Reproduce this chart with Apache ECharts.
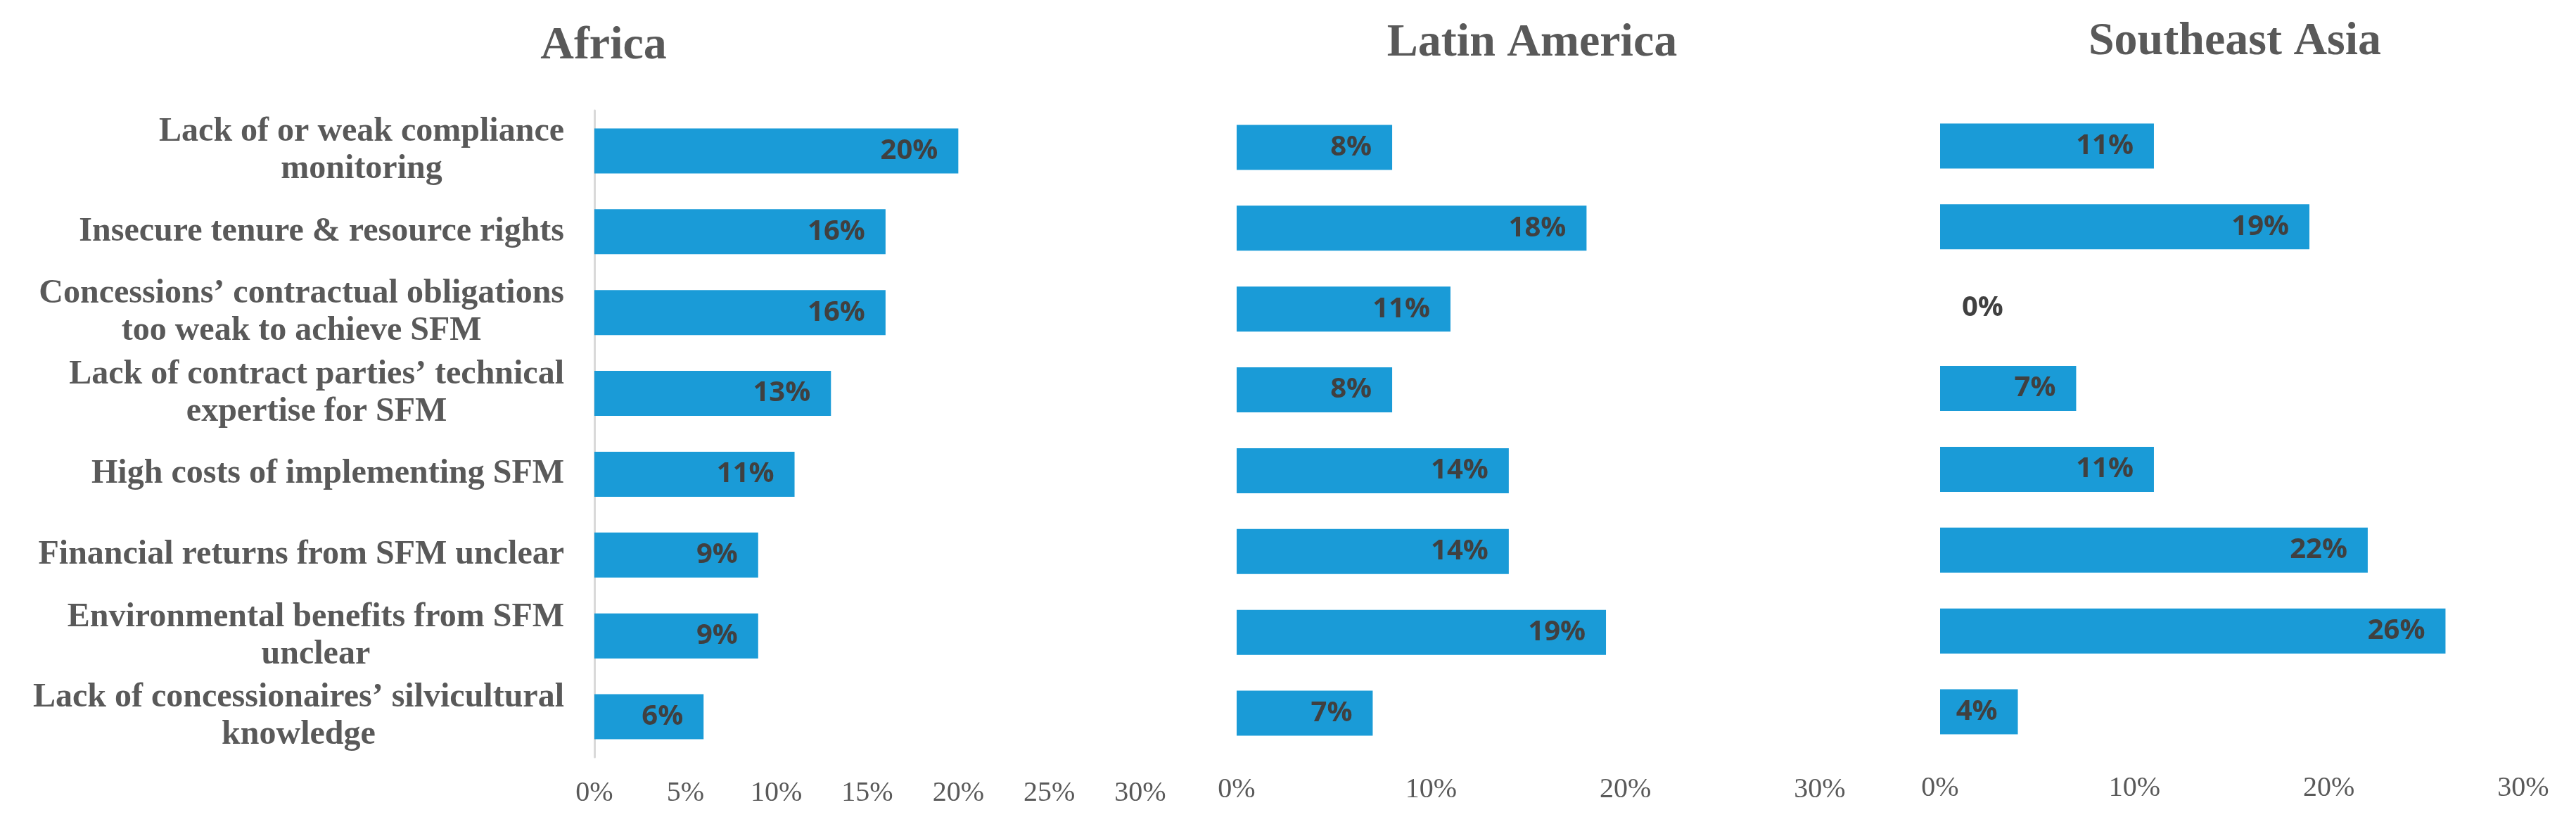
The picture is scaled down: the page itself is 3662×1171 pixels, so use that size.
<!DOCTYPE html>
<html>
<head>
<meta charset="utf-8">
<script src="https://cdn.jsdelivr.net/npm/echarts@6/dist/echarts.min.js"></script>
<style>
html,body{margin:0;padding:0;background:#fff;}
#chart{width:3662px;height:1171px;}
</style>
</head>
<body>
<div id="chart"></div>
<script>
const categories = [
  "Lack of or weak compliance\nmonitoring",
  "Insecure tenure & resource rights",
  "Concessions\u2019 contractual obligations\ntoo weak to achieve SFM",
  "Lack of contract parties\u2019 technical\nexpertise for SFM",
  "High costs of implementing SFM",
  "Financial returns from SFM unclear",
  "Environmental benefits from SFM\nunclear",
  "Lack of concessionaires\u2019 silvicultural\nknowledge"
];
const regions = ["Africa", "Latin America", "Southeast Asia"];
const africaValues = [20, 16, 16, 13, 11, 9, 9, 6];
const latinAmericaValues = [8, 18, 11, 8, 14, 14, 19, 7];
const southeastAsiaValues = [11, 19, 0, 7, 11, 22, 26, 4];
const africaTicks = {min: 0, max: 30, interval: 5};
const otherTicks = {min: 0, max: 30, interval: 10};

const serif = "'Liberation Serif','Times New Roman',serif";
const sans = "'Open Sans','Noto Sans',sans-serif";
const barColor = '#1a9bd7';
const textGray = '#595959';

const grids = [
  {left: 845, top: 157, width: 776, height: 919},
  {left: 1758, top: 152, width: 829, height: 919},
  {left: 2758, top: 150, width: 829, height: 919}
];
const seriesValues = [africaValues, latinAmericaValues, southeastAsiaValues];
const tickSets = [africaTicks, otherTicks, otherTicks];
const titlePos = [[858, 66], [2178, 62], [3177, 60]];

const chart = echarts.init(document.getElementById('chart'), null, {renderer: 'canvas'});

const option = {
  animation: false,
  backgroundColor: '#ffffff',
  graphic: regions.map((r, i) => ({
    type: 'text', x: titlePos[i][0], y: titlePos[i][1],
    style: {text: r, align: 'center', verticalAlign: 'middle',
      font: 'bold 66px ' + serif, fill: textGray}
  })),
  grid: grids.map(g => Object.assign({containLabel: false}, g)),
  xAxis: tickSets.map((t, i) => ({
    type: 'value', gridIndex: i, min: t.min, max: t.max, interval: t.interval,
    axisLine: {show: false}, axisTick: {show: false}, splitLine: {show: false},
    axisLabel: {formatter: '{value}%', fontFamily: serif, fontSize: 40, color: textGray, margin: 31}
  })),
  yAxis: regions.map((r, i) => ({
    type: 'category', gridIndex: i, data: categories, inverse: true,
    axisTick: {show: false},
    axisLine: {show: i === 0, lineStyle: {color: '#d9d9d9', width: 3}},
    axisLabel: i === 0 ? {
      show: true, margin: 43, align: 'right',
      formatter: v => v.split('\n').map(s => '{c|' + s + '}').join('\n'),
      rich: {c: {align: 'center', fontFamily: serif, fontSize: 48, fontWeight: 'bold', color: textGray, lineHeight: 53}}
    } : {show: false}
  })),
  series: seriesValues.map((vals, i) => ({
    type: 'bar', xAxisIndex: i, yAxisIndex: i,
    barWidth: 64,
    itemStyle: {color: barColor},
    label: {
      show: true, position: 'insideRight', distance: 29,
      formatter: '{c}%', fontFamily: sans, fontWeight: 'bold', fontSize: 40, color: '#404040'
    },
    data: vals.map(v => v === 0 ? {value: v, label: {position: 'right', distance: 31}} : v)
  }))
};
chart.setOption(option);
</script>
</body>
</html>
